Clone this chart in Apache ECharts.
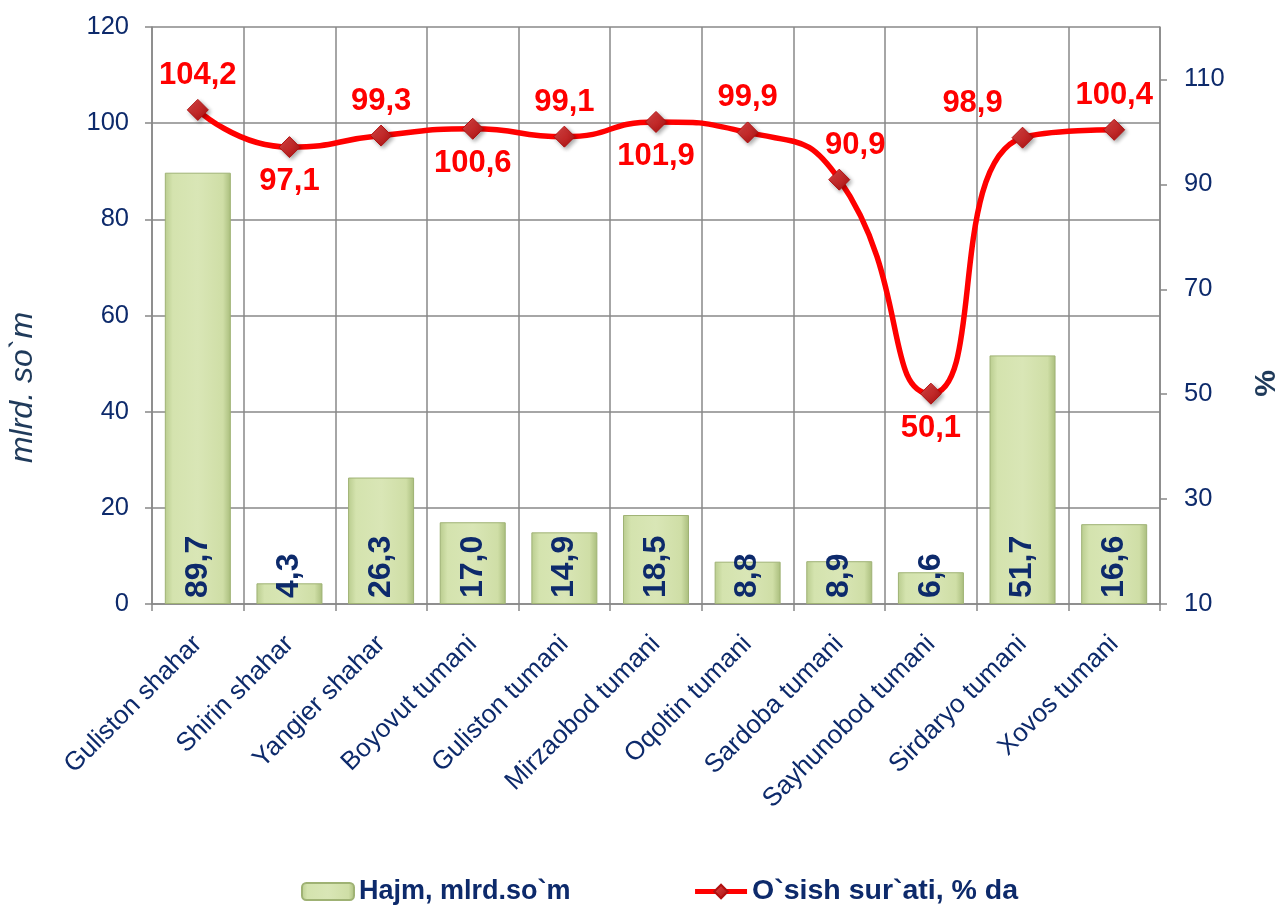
<!DOCTYPE html>
<html><head><meta charset="utf-8">
<script src="https://cdn.jsdelivr.net/npm/echarts@6/dist/echarts.min.js"></script>
<style>html,body{margin:0;padding:0;background:#fff}#c{width:1279px;height:905px}</style>
</head><body><div id="c"></div>
<script>
const categories = ["Guliston shahar","Shirin shahar","Yangier shahar","Boyovut tumani","Guliston tumani","Mirzaobod tumani","Oqoltin tumani","Sardoba tumani","Sayhunobod tumani","Sirdaryo tumani","Xovos tumani"];
const volume = [89.7, 4.3, 26.3, 17.0, 14.9, 18.5, 8.8, 8.9, 6.6, 51.7, 16.6];
const growth = [104.2, 97.1, 99.3, 100.6, 99.1, 101.9, 99.9, 90.9, 50.1, 98.9, 100.4];
const leftTicks = [0, 20, 40, 60, 80, 100, 120];
const rightTicks = [10, 30, 50, 70, 90, 110];

const labelPos = ['top','bottom','top','bottom','top','bottom','top','top','bottom','top','top'];
const labelOff = [[0,0],[0,0],[0,0],[0,0],[0,0],[0,0],[0,0],[16,0],[0,0],[-50,0],[0,0]];
const fmt = v => v.toFixed(1).replace('.', ',');
const navy = '#0d2a6b';
const font = '"Liberation Sans", Arial, sans-serif';

const chart = echarts.init(document.getElementById('c'), null, {renderer:'canvas'});
chart.setOption({
  animation:false,
  textStyle:{fontFamily:font},
  grid:{left:152, right:119, top:27, bottom:301, containLabel:false, outerBoundsMode:'none'},
  legend:{
    top:872, left:296, itemGap:122, itemWidth:52, itemHeight:17,
    textStyle:{color:navy, fontSize:27, fontWeight:'bold', fontFamily:font},
    data:[{name:'Hajm, mlrd.so`m'},{name:'O`sish sur`ati, % da', lineStyle:{width:5, color:'#ff0000'}, textStyle:{fontSize:28.5}}]
  },
  xAxis:{
    type:'category', data:categories,
    axisLine:{lineStyle:{color:'#888', width:1.5}},
    axisTick:{show:true, length:7, lineStyle:{color:'#888', width:1.5}},
    splitLine:{show:true, lineStyle:{color:'#888', width:1.5}},
    axisLabel:{rotate:45, color:navy, fontSize:26, fontFamily:font, margin:36, interval:0}
  },
  yAxis:[{
    type:'value', min:leftTicks[0], max:leftTicks[leftTicks.length-1], interval:20,
    name:'mlrd. so`m', nameLocation:'middle', nameGap:113, nameRotate:90,
    nameTextStyle:{color:'#1f3a5a', fontSize:32, fontStyle:'italic', fontFamily:font, padding:[0,144,0,0]},
    axisLine:{show:true, lineStyle:{color:'#888', width:1.5}},
    axisTick:{show:true, length:7, lineStyle:{color:'#888', width:1.5}},
    splitLine:{show:true, lineStyle:{color:'#888', width:1.5}},
    axisLabel:{color:navy, fontSize:25.5, fontFamily:font, margin:23}
  },{
    type:'value', min:rightTicks[0], max:120, interval:20,
    name:'%', nameLocation:'middle', nameGap:92, nameRotate:90,
    nameTextStyle:{color:'#1f3a5a', fontSize:30, fontWeight:'bold', fontFamily:font, padding:[0,136,0,0]},
    axisLine:{show:true, lineStyle:{color:'#888', width:1.5}},
    axisTick:{show:true, length:7, lineStyle:{color:'#888', width:1.5}},
    splitLine:{show:false},
    axisLabel:{color:navy, fontSize:25.5, fontFamily:font, margin:24, showMaxLabel:false,
      formatter: v => rightTicks.includes(v) ? String(v) : ''}
  }],
  series:[{
    name:'Hajm, mlrd.so`m', type:'bar', yAxisIndex:0, barWidth:66,
    data:volume,
    itemStyle:{
      color:new echarts.graphic.LinearGradient(0,0,1,0,[
        {offset:0,color:'#b9cc8e'},{offset:0.12,color:'#d4e3ae'},{offset:0.5,color:'#d9e6b6'},{offset:0.88,color:'#cfdea6'},{offset:1,color:'#a9bd7c'}]),
      borderColor:'#9fb274', borderWidth:1
    },
    label:{show:true, position:'insideBottom', rotate:90, align:'left', verticalAlign:'middle', distance:6,
      color:navy, fontSize:32, fontWeight:'bold', fontFamily:font, formatter:p=>fmt(p.value)}
  },{
    name:'O`sish sur`ati, % da', type:'line', yAxisIndex:1, smooth:0.55,
    data:growth.map((v,i)=>({value:v, label:{position:labelPos[i], offset:labelOff[i]}})),
    lineStyle:{color:'#ff0000', width:5.5},
    symbol:'diamond', symbolSize:21,
    itemStyle:{color:new echarts.graphic.LinearGradient(0,0,1,1,[{offset:0,color:'#e24a4a'},{offset:1,color:'#a50d0d'}]), borderColor:'#b01010', borderWidth:1,
      shadowColor:'rgba(0,0,0,0.35)', shadowBlur:4, shadowOffsetX:2, shadowOffsetY:2},
    label:{show:true, color:'#ff0000', fontSize:31, fontWeight:'bold', fontFamily:font, distance:8, formatter:p=>fmt(p.value)},
    z:5
  }]
});
</script></body></html>
